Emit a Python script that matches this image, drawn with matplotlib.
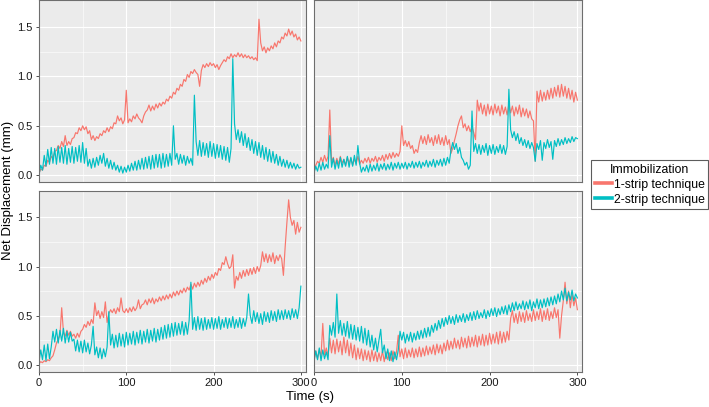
import matplotlib
matplotlib.use("Agg")
import matplotlib.pyplot as plt
from matplotlib.lines import Line2D

plt.rcParams['font.family'] = ['Liberation Sans', 'DejaVu Sans']

# sample times (s), one reading every 2 s
time_s = list(range(0, 301, 2))

# top-left panel
tl_one = [0.02, 0.06, 0.05, 0.10, 0.09, 0.15, 0.13, 0.19, 0.17, 0.24,
          0.25, 0.30, 0.27, 0.34, 0.29, 0.40, 0.30, 0.34, 0.31, 0.37,
          0.38, 0.43, 0.42, 0.48, 0.45, 0.50, 0.46, 0.49, 0.42, 0.45,
          0.36, 0.40, 0.35, 0.39, 0.37, 0.42, 0.40, 0.45, 0.43, 0.48,
          0.44, 0.49, 0.47, 0.53, 0.52, 0.60, 0.55, 0.58, 0.52, 0.56,
          0.86, 0.53, 0.57, 0.54, 0.60, 0.57, 0.62, 0.58, 0.56, 0.53,
          0.60, 0.64, 0.66, 0.71, 0.65, 0.70, 0.66, 0.72, 0.68, 0.73,
          0.70, 0.74, 0.72, 0.77, 0.75, 0.80, 0.78, 0.84, 0.82, 0.88,
          0.86, 0.92, 0.90, 0.97, 0.95, 1.02, 0.99, 1.05, 1.03, 1.07,
          1.04, 1.02, 0.90, 1.06, 1.12, 1.09, 1.13, 1.10, 1.14, 1.11,
          1.13, 1.09, 1.12, 1.07, 1.11, 1.14, 1.17, 1.15, 1.20, 1.18,
          1.23, 1.19, 1.22, 1.20, 1.24, 1.20, 1.23, 1.19, 1.22, 1.19,
          1.21, 1.18, 1.20, 1.17, 1.19, 1.16, 1.58, 1.34, 1.26, 1.30,
          1.24, 1.29, 1.26, 1.31, 1.28, 1.34, 1.30, 1.36, 1.34, 1.40,
          1.38, 1.44, 1.41, 1.48, 1.42, 1.46, 1.40, 1.43, 1.37, 1.40,
          1.36]
tl_two = [0.00, 0.10, 0.05, 0.20, 0.09, 0.26, 0.11, 0.28, 0.12, 0.27,
          0.11, 0.29, 0.13, 0.28, 0.12, 0.30, 0.11, 0.27, 0.13, 0.29,
          0.12, 0.28, 0.14, 0.30, 0.13, 0.33, 0.12, 0.27, 0.09, 0.16,
          0.07, 0.17, 0.08, 0.18, 0.10, 0.20, 0.12, 0.22, 0.09, 0.17,
          0.07, 0.15, 0.06, 0.13, 0.05, 0.10, 0.03, 0.09, 0.02, 0.08,
          0.03, 0.10, 0.04, 0.12, 0.05, 0.14, 0.05, 0.15, 0.06, 0.17,
          0.06, 0.18, 0.07, 0.19, 0.06, 0.20, 0.07, 0.21, 0.08, 0.21,
          0.07, 0.22, 0.08, 0.21, 0.09, 0.22, 0.10, 0.50, 0.16, 0.22,
          0.11, 0.21, 0.12, 0.20, 0.10, 0.19, 0.12, 0.17, 0.10, 0.81,
          0.34, 0.20, 0.35, 0.19, 0.33, 0.20, 0.32, 0.18, 0.34, 0.19,
          0.32, 0.17, 0.31, 0.18, 0.30, 0.16, 0.29, 0.15, 0.28, 0.13,
          0.27, 1.18, 0.52, 0.36, 0.46, 0.33, 0.44, 0.30, 0.42, 0.28,
          0.38, 0.25, 0.36, 0.22, 0.34, 0.20, 0.33, 0.18, 0.30, 0.16,
          0.28, 0.14, 0.26, 0.13, 0.24, 0.12, 0.21, 0.10, 0.19, 0.09,
          0.16, 0.08, 0.15, 0.07, 0.13, 0.07, 0.12, 0.06, 0.11, 0.07,
          0.08]

# top-right panel
tr_one = [0.03, 0.10, 0.14, 0.12, 0.18, 0.13, 0.20, 0.14, 0.19, 0.66,
          0.13, 0.18, 0.10, 0.17, 0.11, 0.19, 0.12, 0.16, 0.10, 0.18,
          0.12, 0.17, 0.10, 0.16, 0.12, 0.19, 0.11, 0.15, 0.12, 0.17,
          0.13, 0.18, 0.12, 0.17, 0.14, 0.19, 0.13, 0.18, 0.15, 0.20,
          0.14, 0.21, 0.16, 0.22, 0.17, 0.23, 0.18, 0.22, 0.19, 0.24,
          0.50, 0.30, 0.35, 0.29, 0.34, 0.27, 0.30, 0.22, 0.26, 0.23,
          0.33, 0.40, 0.32, 0.39, 0.31, 0.41, 0.33, 0.38, 0.30, 0.40,
          0.32, 0.41, 0.31, 0.38, 0.30, 0.40, 0.31, 0.36, 0.22, 0.27,
          0.35, 0.42, 0.50, 0.56, 0.60, 0.48, 0.52, 0.45, 0.50, 0.44,
          0.49, 0.43, 0.36, 0.76, 0.65, 0.73, 0.62, 0.71, 0.60, 0.72,
          0.62, 0.70, 0.61, 0.72, 0.63, 0.70, 0.60, 0.71, 0.62, 0.69,
          0.61, 0.72, 0.63, 0.70, 0.60, 0.69, 0.62, 0.71, 0.59, 0.68,
          0.60, 0.67, 0.58, 0.65, 0.57, 0.55, 0.14, 0.85, 0.74, 0.86,
          0.75, 0.84, 0.76, 0.86, 0.77, 0.88, 0.78, 0.89, 0.80, 0.91,
          0.79, 0.92, 0.80, 0.90, 0.78, 0.88, 0.77, 0.86, 0.74, 0.84,
          0.76]
tr_two = [0.02, 0.09, 0.04, 0.12, 0.05, 0.13, 0.06, 0.11, 0.07, 0.40,
          0.08, 0.17, 0.06, 0.15, 0.07, 0.18, 0.08, 0.16, 0.09, 0.19,
          0.08, 0.18, 0.09, 0.20, 0.10, 0.30, 0.12, 0.03, 0.08, 0.04,
          0.10, 0.03, 0.11, 0.04, 0.10, 0.05, 0.12, 0.04, 0.11, 0.06,
          0.12, 0.05, 0.11, 0.06, 0.13, 0.05, 0.12, 0.07, 0.13, 0.06,
          0.12, 0.07, 0.13, 0.06, 0.12, 0.08, 0.14, 0.07, 0.13, 0.08,
          0.14, 0.07, 0.13, 0.09, 0.15, 0.08, 0.14, 0.09, 0.16, 0.08,
          0.15, 0.10, 0.16, 0.09, 0.17, 0.10, 0.18, 0.12, 0.25, 0.33,
          0.26, 0.32, 0.22, 0.28, 0.18, 0.15, 0.10, 0.13, 0.06, 0.10,
          0.65, 0.24, 0.32, 0.22, 0.31, 0.21, 0.30, 0.23, 0.32, 0.20,
          0.30, 0.22, 0.31, 0.21, 0.29, 0.23, 0.31, 0.22, 0.30, 0.21,
          0.29, 0.87, 0.46, 0.38, 0.44, 0.35, 0.42, 0.32, 0.38, 0.30,
          0.36, 0.28, 0.35, 0.27, 0.33, 0.28, 0.14, 0.32, 0.26, 0.35,
          0.15, 0.33, 0.27, 0.36, 0.28, 0.34, 0.16, 0.35, 0.29, 0.37,
          0.30, 0.36, 0.31, 0.38, 0.32, 0.37, 0.33, 0.39, 0.34, 0.38,
          0.37]

# bottom-left panel
bl_one = [0.01, 0.03, 0.02, 0.04, 0.03, 0.05, 0.04, 0.07, 0.09, 0.15,
          0.22, 0.26, 0.30, 0.58, 0.33, 0.29, 0.35, 0.30, 0.34, 0.29,
          0.31, 0.27, 0.32, 0.28, 0.34, 0.36, 0.41, 0.38, 0.44, 0.40,
          0.46, 0.42, 0.63, 0.50, 0.55, 0.47, 0.54, 0.48, 0.64, 0.43,
          0.52, 0.56, 0.53, 0.57, 0.52, 0.58, 0.54, 0.68, 0.55, 0.53,
          0.57, 0.53, 0.58, 0.54, 0.59, 0.55, 0.58, 0.66, 0.57, 0.61,
          0.62, 0.66, 0.61, 0.67, 0.63, 0.68, 0.62, 0.67, 0.64, 0.69,
          0.65, 0.70, 0.66, 0.71, 0.67, 0.72, 0.68, 0.74, 0.70, 0.75,
          0.71, 0.76, 0.73, 0.78, 0.74, 0.79, 0.76, 0.82, 0.77, 0.83,
          0.79, 0.84, 0.80, 0.86, 0.82, 0.88, 0.84, 0.90, 0.86, 0.92,
          0.88, 0.94, 0.91, 0.98, 0.96, 1.04, 1.02, 1.10, 1.03, 0.98,
          1.00, 1.12, 0.78, 0.90, 0.86, 0.94, 0.88, 0.96, 0.90, 0.97,
          0.91, 0.98, 0.92, 0.99, 0.93, 1.00, 0.95, 1.01, 1.15, 1.05,
          1.13, 1.04, 1.12, 1.05, 1.14, 1.03, 1.11, 1.06, 1.12, 1.08,
          0.91, 1.20, 1.45, 1.68, 1.50, 1.42, 1.47, 1.33, 1.45, 1.35,
          1.40]
bl_two = [0.03, 0.15, 0.05, 0.20, 0.04, 0.21, 0.06, 0.18, 0.34, 0.23,
          0.36, 0.22, 0.35, 0.24, 0.37, 0.22, 0.34, 0.23, 0.33, 0.24,
          0.26, 0.14, 0.25, 0.13, 0.24, 0.12, 0.25, 0.13, 0.22, 0.11,
          0.20, 0.39, 0.10, 0.18, 0.07, 0.17, 0.06, 0.16, 0.08, 0.18,
          0.54, 0.20, 0.31, 0.17, 0.30, 0.18, 0.32, 0.19, 0.31, 0.18,
          0.33, 0.20, 0.32, 0.21, 0.34, 0.20, 0.33, 0.22, 0.35, 0.21,
          0.34, 0.23, 0.36, 0.22, 0.35, 0.24, 0.37, 0.23, 0.36, 0.25,
          0.38, 0.26, 0.40, 0.27, 0.41, 0.28, 0.42, 0.29, 0.43, 0.30,
          0.42, 0.31, 0.44, 0.30, 0.43, 0.31, 0.45, 0.84, 0.36, 0.48,
          0.35, 0.49, 0.36, 0.47, 0.35, 0.48, 0.36, 0.46, 0.37, 0.48,
          0.36, 0.47, 0.37, 0.49, 0.36, 0.46, 0.38, 0.48, 0.37, 0.47,
          0.38, 0.49, 0.37, 0.46, 0.38, 0.48, 0.37, 0.47, 0.39, 0.48,
          0.72, 0.50, 0.42, 0.55, 0.44, 0.53, 0.42, 0.52, 0.41, 0.54,
          0.44, 0.53, 0.43, 0.55, 0.45, 0.54, 0.44, 0.56, 0.46, 0.55,
          0.46, 0.56, 0.47, 0.55, 0.46, 0.57, 0.48, 0.56, 0.47, 0.58,
          0.80]

# bottom-right panel
br_one = [0.05, 0.14, 0.06, 0.15, 0.08, 0.42, 0.10, 0.17, 0.09, 0.27,
          0.12, 0.25, 0.11, 0.26, 0.13, 0.24, 0.10, 0.28, 0.12, 0.25,
          0.09, 0.22, 0.07, 0.20, 0.05, 0.17, 0.06, 0.16, 0.04, 0.15,
          0.05, 0.14, 0.03, 0.15, 0.04, 0.13, 0.03, 0.12, 0.04, 0.14,
          0.03, 0.13, 0.05, 0.12, 0.04, 0.14, 0.06, 0.13, 0.30, 0.08,
          0.16, 0.06, 0.17, 0.07, 0.15, 0.08, 0.17, 0.07, 0.16, 0.08,
          0.18, 0.08, 0.17, 0.09, 0.19, 0.10, 0.18, 0.11, 0.20, 0.10,
          0.21, 0.12, 0.20, 0.11, 0.22, 0.14, 0.25, 0.15, 0.24, 0.16,
          0.27, 0.17, 0.25, 0.16, 0.28, 0.18, 0.27, 0.17, 0.29, 0.18,
          0.28, 0.19, 0.30, 0.18, 0.29, 0.20, 0.31, 0.19, 0.30, 0.20,
          0.32, 0.21, 0.31, 0.22, 0.33, 0.21, 0.34, 0.22, 0.33, 0.23,
          0.34, 0.25, 0.47, 0.55, 0.43, 0.52, 0.42, 0.54, 0.44, 0.53,
          0.43, 0.55, 0.45, 0.52, 0.44, 0.56, 0.45, 0.54, 0.46, 0.57,
          0.44, 0.55, 0.46, 0.57, 0.45, 0.54, 0.47, 0.58, 0.48, 0.56,
          0.27, 0.50, 0.65, 0.84, 0.62, 0.75, 0.58, 0.72, 0.60, 0.68,
          0.56]
br_two = [0.03, 0.14, 0.05, 0.17, 0.04, 0.15, 0.06, 0.13, 0.05, 0.40,
          0.30, 0.43, 0.28, 0.72, 0.32, 0.45, 0.30, 0.42, 0.29, 0.44,
          0.27, 0.41, 0.26, 0.40, 0.25, 0.38, 0.24, 0.39, 0.22, 0.37,
          0.20, 0.35, 0.18, 0.30, 0.15, 0.27, 0.13, 0.25, 0.36, 0.12,
          0.20, 0.06, 0.16, 0.04, 0.14, 0.03, 0.13, 0.05, 0.15, 0.34,
          0.25, 0.33, 0.22, 0.31, 0.24, 0.33, 0.23, 0.32, 0.25, 0.34,
          0.26, 0.35, 0.27, 0.37, 0.28, 0.38, 0.29, 0.40, 0.33, 0.42,
          0.35, 0.45, 0.37, 0.47, 0.39, 0.48, 0.41, 0.50, 0.42, 0.49,
          0.41, 0.51, 0.43, 0.50, 0.44, 0.52, 0.43, 0.51, 0.45, 0.53,
          0.45, 0.54, 0.46, 0.55, 0.47, 0.53, 0.48, 0.56, 0.47, 0.55,
          0.49, 0.57, 0.50, 0.58, 0.49, 0.57, 0.51, 0.59, 0.52, 0.60,
          0.51, 0.61, 0.54, 0.63, 0.55, 0.64, 0.56, 0.62, 0.57, 0.65,
          0.56, 0.64, 0.57, 0.66, 0.55, 0.64, 0.58, 0.67, 0.57, 0.66,
          0.58, 0.67, 0.59, 0.68, 0.60, 0.69, 0.61, 0.70, 0.62, 0.72,
          0.64, 0.75, 0.66, 0.78, 0.65, 0.74, 0.66, 0.76, 0.65, 0.72,
          0.68]

x_ticks = [0, 100, 200, 300]
y_ticks = [0.0, 0.5, 1.0, 1.5]
y_tick_labels = ['0.0', '0.5', '1.0', '1.5']
series_names = ['1-strip technique', '2-strip technique']

RED = '#F8766D'
TEAL = '#00BFC4'

W, H = 709, 407
fig = plt.figure(figsize=(W / 100, H / 100), dpi=100)


def add_panel(x0, y0, x1, y1):
    return fig.add_axes([x0 / W, 1 - y1 / H, (x1 - x0) / W, (y1 - y0) / H])


panels = [
    (add_panel(39, 0.5, 305.5, 182.5), tl_one, tl_two, True, False),
    (add_panel(314, 0.5, 582, 182.5), tr_one, tr_two, False, False),
    (add_panel(39, 191, 305.5, 372), bl_one, bl_two, True, True),
    (add_panel(314, 191, 582, 372), br_one, br_two, False, True),
]

for ax, one, two, left, bottom in panels:
    ax.set_facecolor('#EBEBEB')
    ax.plot(time_s, one, color=RED, lw=0.85)
    ax.plot(time_s, two, color=TEAL, lw=0.85)
    ax.set_xlim(0, 305.3)
    ax.set_ylim(-0.075, 1.77)
    ax.set_xticks(x_ticks)
    ax.set_xticks([50, 150, 250], minor=True)
    ax.set_yticks(y_ticks)
    ax.set_yticks([0.25, 0.75, 1.25], minor=True)
    ax.grid(which='major', color='white', lw=0.8)
    ax.grid(which='minor', color='white', lw=0.4)
    ax.set_axisbelow(True)
    for sp in ax.spines.values():
        sp.set_color('#6E6E6E')
        sp.set_linewidth(0.8)
    ax.tick_params(which='minor', length=0)
    ax.tick_params(which='major', length=2.5, width=0.6, color='#333333',
                   labelsize=8, labelcolor='#1A1A1A', pad=2)
    if left:
        ax.set_yticklabels(y_tick_labels)
    else:
        ax.tick_params(axis='y', which='major', length=0, labelleft=False)
    if not bottom:
        ax.tick_params(axis='x', which='major', length=0, labelbottom=False)

fig.text(8 / W, 1 - 190 / H, 'Net Displacement (mm)', rotation=90,
         ha='center', va='center', fontsize=9.5, color='black')
fig.text(310 / W, 1 - 397 / H, 'Time (s)', ha='center', va='center',
         fontsize=9.5, color='black')

handles = [Line2D([], [], color=RED, lw=2.6), Line2D([], [], color=TEAL, lw=2.6)]
leg = fig.legend(handles, series_names, title='Immobilization',
                 loc='upper left', bbox_to_anchor=(591 / W, 1 - 160 / H),
                 frameon=True, fancybox=False, fontsize=8.8, title_fontsize=8.8,
                 handlelength=1.4, handletextpad=0.15, borderpad=0.3,
                 labelspacing=0.25, borderaxespad=0)
leg.get_frame().set_edgecolor('#333333')
leg.get_frame().set_linewidth(0.8)

fig.savefig('out.png', dpi=100)
